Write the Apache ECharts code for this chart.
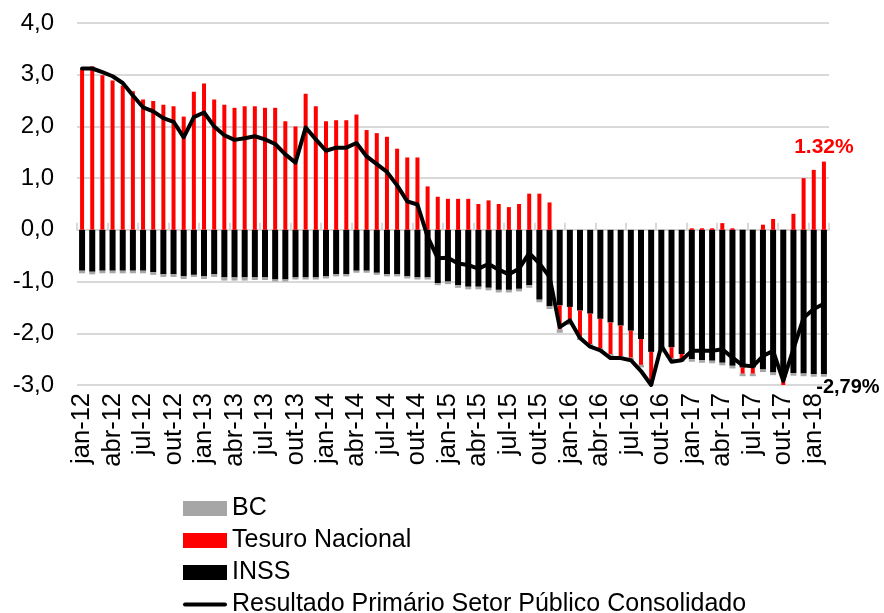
<!doctype html>
<html>
<head>
<meta charset="utf-8">
<title>Resultado Primário</title>
<style>
html, body { margin: 0; padding: 0; background: #fff; }
#main { width: 884px; height: 613px; }
</style>
</head>
<body>
<div id="main"></div>
<script src="https://cdn.jsdelivr.net/npm/echarts@6/dist/echarts.min.js"></script>
<script>
var months = ['jan', 'fev', 'mar', 'abr', 'mai', 'jun', 'jul', 'ago', 'set', 'out', 'nov', 'dez'];
var years = ['12', '13', '14', '15', '16', '17', '18'];
var nMonths = 74; // jan-12 .. fev-18

var categories = [];
years.forEach(function (y) {
    months.forEach(function (m) {
        if (categories.length < nMonths) categories.push(m + '-' + y);
    });
});

var yTicks = [-3, -2, -1, 0, 1, 2, 3, 4];

// % do PIB, acumulado em 12 meses
var tesouro = [
    3.12, 3.16, 2.99, 2.89, 2.79, 2.68, 2.52, 2.49, 2.42, 2.39, 2.19, 2.67,
    2.83, 2.52, 2.42, 2.36, 2.39, 2.39, 2.36, 2.36, 2.10, 2.00, 2.63, 2.39,
    2.10, 2.12, 2.12, 2.23, 1.93, 1.87, 1.80, 1.57, 1.40, 1.40, 0.84, 0.64,
    0.60, 0.60, 0.60, 0.50, 0.57, 0.50, 0.44, 0.50, 0.70, 0.70, 0.53, -0.46,
    -0.30, -0.52, -0.59, -0.57, -0.61, -0.59, -0.52, -0.50, -0.64, -0.02, -0.21, -0.10,
    0.03, 0.03, 0.03, 0.13, 0.03, -0.12, -0.12, 0.10, 0.21, -0.15, 0.31, 1.00,
    1.16, 1.32
];
var inss = [
    -0.79, -0.81, -0.79, -0.79, -0.79, -0.79, -0.79, -0.82, -0.86, -0.86, -0.90, -0.87,
    -0.90, -0.86, -0.92, -0.92, -0.92, -0.92, -0.92, -0.96, -0.96, -0.92, -0.92, -0.92,
    -0.90, -0.86, -0.86, -0.79, -0.79, -0.83, -0.86, -0.86, -0.90, -0.92, -0.92, -1.03,
    -1.00, -1.07, -1.10, -1.10, -1.12, -1.16, -1.16, -1.14, -1.07, -1.35, -1.48, -1.46,
    -1.49, -1.56, -1.62, -1.72, -1.79, -1.85, -1.95, -2.11, -2.36, -2.30, -2.27, -2.40,
    -2.50, -2.52, -2.53, -2.57, -2.63, -2.66, -2.66, -2.70, -2.76, -2.85, -2.77, -2.78,
    -2.79, -2.79
];
var bc = [
    -0.05, -0.05, -0.05, -0.05, -0.05, -0.05, -0.05, -0.05, -0.05, -0.05, -0.05, -0.04,
    -0.05, -0.05, -0.06, -0.06, -0.06, -0.05, -0.05, -0.04, -0.04, -0.04, -0.04, -0.04,
    -0.04, -0.04, -0.04, -0.04, -0.04, -0.04, -0.04, -0.04, -0.04, -0.04, -0.04, -0.04,
    -0.05, -0.05, -0.05, -0.05, -0.05, -0.05, -0.05, -0.05, -0.05, -0.05, -0.05, -0.07,
    -0.05, -0.05, -0.05, -0.05, -0.05, -0.05, -0.05, -0.05, -0.05, -0.05, -0.05, -0.05,
    -0.05, -0.05, -0.05, -0.05, -0.05, -0.05, -0.05, -0.05, -0.05, -0.05, -0.05, -0.05,
    -0.05, -0.05
];
var resultado = [
    3.12, 3.12, 3.05, 2.97, 2.84, 2.60, 2.37, 2.29, 2.16, 2.09, 1.79, 2.18,
    2.27, 2.00, 1.83, 1.74, 1.77, 1.81, 1.75, 1.66, 1.46, 1.30, 1.98, 1.75,
    1.53, 1.59, 1.59, 1.68, 1.42, 1.27, 1.12, 0.86, 0.55, 0.49, -0.13, -0.55,
    -0.54, -0.65, -0.68, -0.75, -0.66, -0.77, -0.86, -0.75, -0.45, -0.65, -0.91, -1.88,
    -1.75, -2.09, -2.26, -2.33, -2.48, -2.48, -2.52, -2.73, -3.00, -2.24, -2.55, -2.52,
    -2.34, -2.34, -2.34, -2.31, -2.47, -2.62, -2.64, -2.44, -2.34, -2.92, -2.30, -1.70,
    -1.53, -1.43
];

var last = nMonths - 1;
var font = 'Liberation Sans, Arial, sans-serif';

// negative Tesouro bars hang below the INSS bar
var gapK = tesouro.map(function (v) { return v < 0 ? v : 0; });
var baseR = tesouro.map(function (v, i) { return v < 0 ? inss[i] : 0; });

var tesouroData = tesouro.map(function (v, i) {
    if (i !== last) return v;
    return {
        value: v,
        label: {
            show: true, position: 'top', distance: 4,
            formatter: v.toFixed(2) + '%',
            color: '#FF0000', fontWeight: 'bold', fontSize: 21, fontFamily: font
        }
    };
});
var inssData = inss.map(function (v, i) {
    if (i !== last) return v;
    return {
        value: v,
        label: {
            show: true, position: 'bottom', distance: 3, offset: [24, 0],
            formatter: v.toFixed(2).replace('.', ',') + '%',
            color: '#000', fontWeight: 'bold', fontSize: 20, fontFamily: font
        }
    };
});

var lineIcon = 'path://M2,0 L42,0 A2,2 0 0 1 42,4 L2,4 A2,2 0 0 1 2,0 Z';

var chart = echarts.init(document.getElementById('main'));
chart.setOption({
    backgroundColor: '#fff',
    animation: false,
    grid: { left: 77, right: 55, top: 23, bottom: 228 },
    legend: {
        data: [
            { name: 'BC', icon: 'rect' },
            { name: 'Tesuro Nacional', icon: 'rect' },
            { name: 'INSS', icon: 'rect' },
            { name: 'Resultado Primário Setor Público Consolidado', icon: lineIcon }
        ],
        orient: 'vertical',
        left: 183, top: 496, height: 140, padding: 0,
        itemWidth: 44, itemHeight: 15, itemGap: 7,
        textStyle: { fontSize: 25, lineHeight: 20, color: '#000', fontFamily: font }
    },
    xAxis: [{
        type: 'category',
        data: categories,
        position: 'bottom',
        axisLine: { show: false, onZero: false },
        axisTick: { show: false },
        axisLabel: {
            interval: 2, rotate: 90, margin: 8,
            fontSize: 25.5, color: '#000', fontFamily: font
        }
    }, {
        type: 'category',
        data: categories,
        axisLine: { show: true, onZero: true, lineStyle: { color: '#D9D9D9', width: 2 } },
        axisTick: { show: true, interval: 2, length: 7, lineStyle: { color: '#D9D9D9', width: 2 } },
        axisLabel: { show: false }
    }],
    yAxis: {
        type: 'value',
        min: yTicks[0], max: yTicks[yTicks.length - 1], interval: 1,
        axisLine: { show: false },
        axisTick: { show: false },
        splitLine: { lineStyle: { color: '#D9D9D9', width: 2 } },
        axisLabel: {
            margin: 23, fontSize: 24, color: '#000', fontFamily: font,
            formatter: function (v) { return v.toFixed(1).replace('.', ','); }
        }
    },
    series: [{
        name: 'INSS', type: 'bar', xAxisIndex: 0, stack: 'k', barWidth: 6,
        itemStyle: { color: '#000000' },
        data: inssData
    }, {
        name: 'gapK', type: 'bar', xAxisIndex: 0, stack: 'k', silent: true,
        itemStyle: { color: 'rgba(0,0,0,0)' },
        data: gapK
    }, {
        name: 'BC', type: 'bar', xAxisIndex: 0, stack: 'k',
        itemStyle: { color: '#A6A6A6' },
        data: bc
    }, {
        name: 'baseR', type: 'bar', xAxisIndex: 1, stack: 'r', barWidth: 4, silent: true,
        itemStyle: { color: 'rgba(0,0,0,0)' },
        data: baseR
    }, {
        name: 'Tesuro Nacional', type: 'bar', xAxisIndex: 1, stack: 'r',
        itemStyle: { color: '#FF0000' },
        data: tesouroData
    }, {
        name: 'Resultado Primário Setor Público Consolidado', type: 'line', xAxisIndex: 0,
        showSymbol: false, symbol: 'none', z: 5,
        itemStyle: { color: '#000000' },
        lineStyle: { color: '#000000', width: 4, join: 'round', cap: 'round' },
        data: resultado
    }]
});

window.onresize = chart.resize;
</script>
</body>
</html>
